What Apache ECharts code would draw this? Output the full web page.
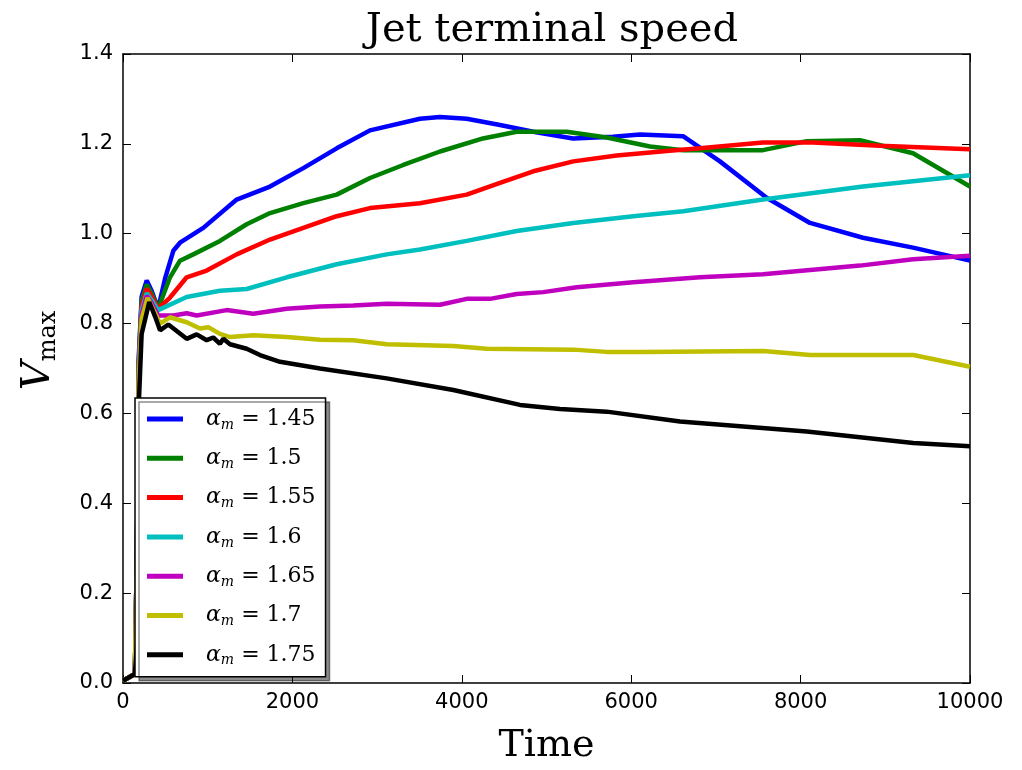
<!DOCTYPE html>
<html>
<head>
<meta charset="utf-8">
<script src="https://cdn.jsdelivr.net/npm/echarts@6/dist/echarts.min.js"></script>
<style>
  html, body { margin: 0; background: #fff; }
  #chart { width: 1022px; height: 770px; }
</style>
</head>
<body>
<div id="chart"></div>
<script>
// alpha_m values, one curve each
const alphas = ["1.45", "1.5", "1.55", "1.6", "1.65", "1.7", "1.75"];
const colors = ["#0000ff", "#008000", "#ff0000", "#00bfbf", "#bf00bf", "#bfbf00", "#000000"];

// [time, Vmax]
const v145 = [[0,0.005],[140,0.02],[165,0.3],[185,0.72],[220,0.86],[280,0.896],[340,0.872],[415,0.833],[496,0.9],[594,0.962],[673,0.98],[948,1.013],[1342,1.076],[1736,1.105],[2129,1.146],[2523,1.19],[2916,1.23],[3506,1.256],[3743,1.26],[4058,1.256],[4451,1.242],[4844,1.227],[5313,1.212],[5785,1.216],[6104,1.221],[6612,1.217],[7048,1.161],[7599,1.08],[8111,1.024],[8737,0.991],[9327,0.969],[10000,0.94]];
const v150 = [[0,0.005],[140,0.02],[165,0.3],[185,0.71],[220,0.85],[280,0.887],[340,0.866],[415,0.833],[555,0.903],[673,0.94],[830,0.954],[1145,0.984],[1460,1.021],[1736,1.046],[2129,1.068],[2523,1.087],[2916,1.124],[3309,1.153],[3743,1.183],[4250,1.212],[4648,1.227],[5239,1.227],[5711,1.214],[6222,1.194],[6612,1.186],[7556,1.186],[8072,1.206],[8701,1.208],[9327,1.179],[10000,1.105]];
const v155 = [[0,0.005],[140,0.02],[165,0.3],[185,0.7],[220,0.84],[280,0.878],[340,0.86],[415,0.833],[555,0.858],[752,0.903],[988,0.918],[1342,0.954],[1736,0.987],[2129,1.013],[2523,1.039],[2916,1.057],[3506,1.068],[4058,1.087],[4451,1.113],[4844,1.139],[5317,1.161],[5829,1.174],[6419,1.184],[6812,1.19],[7556,1.203],[8146,1.203],[8937,1.196],[10000,1.188]];
const v160 = [[0,0.005],[140,0.02],[165,0.3],[185,0.69],[220,0.83],[280,0.868],[340,0.852],[415,0.83],[752,0.859],[1145,0.873],[1460,0.877],[1933,0.903],[2523,0.932],[3113,0.954],[3506,0.965],[4058,0.984],[4648,1.006],[5317,1.024],[6025,1.039],[6615,1.05],[7556,1.076],[8737,1.105],[10000,1.13]];
const v165 = [[0,0.005],[140,0.02],[165,0.3],[185,0.68],[220,0.82],[280,0.862],[340,0.845],[415,0.818],[594,0.818],[752,0.823],[870,0.818],[1224,0.83],[1538,0.822],[1933,0.833],[2326,0.838],[2719,0.84],[3113,0.844],[3743,0.842],[4058,0.855],[4333,0.855],[4648,0.866],[4962,0.87],[5357,0.881],[6025,0.892],[6812,0.903],[7556,0.91],[8701,0.929],[9327,0.943],[10000,0.951]];
const v170 = [[0,0.005],[140,0.02],[165,0.3],[185,0.67],[220,0.81],[290,0.857],[360,0.83],[437,0.8],[555,0.814],[752,0.803],[909,0.789],[1007,0.792],[1145,0.777],[1263,0.77],[1538,0.774],[1933,0.77],[2326,0.764],[2719,0.763],[3113,0.754],[3900,0.75],[4294,0.744],[5317,0.742],[5711,0.737],[6143,0.737],[7560,0.739],[8111,0.73],[9331,0.73],[10000,0.704]];
const v175 = [[0,0.005],[140,0.02],[172,0.1],[182,0.6],[220,0.777],[310,0.848],[380,0.815],[437,0.785],[535,0.798],[752,0.766],[870,0.776],[988,0.763],[1066,0.769],[1145,0.755],[1184,0.766],[1263,0.754],[1460,0.744],[1617,0.73],[1854,0.715],[2326,0.7],[3113,0.678],[3900,0.652],[4687,0.619],[5159,0.61],[5711,0.604],[6576,0.582],[8072,0.56],[9331,0.534],[10000,0.527]];
const curves = [v145, v150, v155, v160, v165, v170, v175];

const chart = echarts.init(document.getElementById("chart"));

const tickStyle = { inside: true, length: 8, lineStyle: { color: "#000", width: 1 } };
const lineAxis = { show: true, onZero: false, lineStyle: { color: "#000", width: 1.5 } };
const labelFont = { color: "#000", fontFamily: "DejaVu Sans", fontSize: 21 };

chart.setOption({
  animation: false,
  backgroundColor: "#fff",
  title: {
    text: "Jet terminal speed",
    left: 547,
    textAlign: "center",
    top: 6,
    textStyle: { fontFamily: "DejaVu Serif", fontWeight: "normal", fontSize: 40, color: "#000" }
  },
  grid: { left: 123, right: 52, top: 54, bottom: 82 },
  legend: {
    orient: "vertical",
    left: 135,
    top: 398,
    padding: [10, 10, 9, 12],
    itemGap: 15.3,
    itemWidth: 36,
    itemHeight: 5,
    icon: "rect",
    backgroundColor: "#fff",
    borderColor: "#000",
    borderWidth: 1.5,
    borderRadius: 0,
    shadowColor: "rgba(0,0,0,0.45)",
    shadowOffsetX: 4,
    shadowOffsetY: 4,
    shadowBlur: 0,
    data: alphas.map(a => "αm = " + a),
    formatter: name => "{a|α}{s|m}{t|" + name.slice(2) + "}",
    textStyle: {
      rich: {
        a: { fontFamily: "DejaVu Serif", fontStyle: "italic", fontSize: 22, lineHeight: 26, padding: [0, 0, 0, 18], color: "#000" },
        s: { fontFamily: "DejaVu Serif", fontStyle: "italic", fontSize: 14, lineHeight: 26, verticalAlign: "bottom", color: "#000" },
        t: { fontFamily: "DejaVu Serif", fontSize: 22, lineHeight: 26, color: "#000" }
      }
    }
  },
  xAxis: [
    {
      type: "value", min: 0, max: 10000, interval: 2000,
      name: "Time", nameLocation: "middle", nameGap: 44,
      nameTextStyle: { fontFamily: "DejaVu Serif", fontSize: 38, color: "#000" },
      axisLine: lineAxis, axisTick: tickStyle,
      axisLabel: Object.assign({ margin: 9, formatter: v => String(v) }, labelFont),
      splitLine: { show: false }
    },
    {
      type: "value", min: 0, max: 10000, interval: 2000, position: "top",
      axisLine: lineAxis, axisTick: tickStyle, axisLabel: { show: false }, splitLine: { show: false }
    }
  ],
  yAxis: [
    {
      type: "value", min: 0, max: 1.4, interval: 0.2,
      name: "{v|V}{m|max}", nameLocation: "middle", nameGap: 62,
      nameTextStyle: {
        padding: [0, 0, 0, 36],
        rich: {
          v: { fontFamily: "DejaVu Serif", fontStyle: "italic", fontSize: 40, lineHeight: 44, color: "#000" },
          m: { fontFamily: "DejaVu Serif", fontSize: 24, lineHeight: 44, verticalAlign: "bottom", color: "#000" }
        }
      },
      axisLine: lineAxis, axisTick: tickStyle,
      axisLabel: Object.assign({ margin: 10, formatter: v => v.toFixed(1) }, labelFont),
      splitLine: { show: false }
    },
    {
      type: "value", min: 0, max: 1.4, interval: 0.2, position: "right",
      axisLine: lineAxis, axisTick: tickStyle, axisLabel: { show: false }, splitLine: { show: false }
    }
  ],
  series: curves.map((d, i) => ({
    name: "αm = " + alphas[i],
    type: "line",
    data: d,
    showSymbol: false,
    symbol: "none",
    color: colors[i],
    lineStyle: { color: colors[i], width: 4.5 },
    emphasis: { disabled: true }
  }))
});

window.addEventListener("resize", () => {
  chart.resize();
});
</script>
</body>
</html>
